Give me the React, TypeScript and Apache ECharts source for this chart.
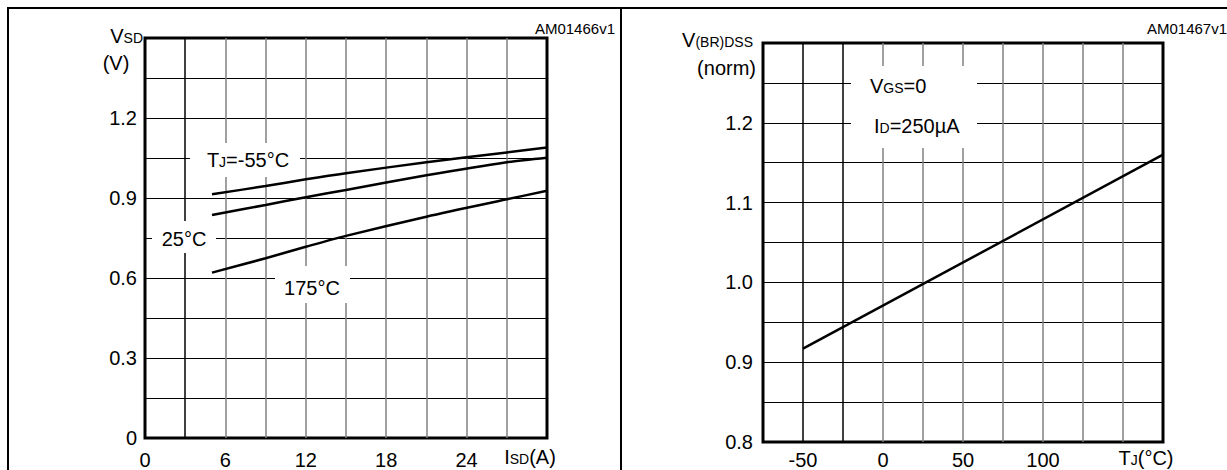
import React, { useEffect, useRef } from "react";
import * as echarts from "echarts";

// Left chart: source-drain diode forward characteristics
const isdA = [5, 9, 12, 15, 21, 27, 30];
const vsdM55 = [0.914, 0.945, 0.970, 0.993, 1.034, 1.071, 1.089];
const vsd25 = [0.836, 0.874, 0.903, 0.930, 0.985, 1.034, 1.051];
const vsd175 = [0.620, 0.674, 0.717, 0.758, 0.830, 0.895, 0.927];

// Right chart: normalized breakdown voltage vs temperature
const tjC = [-50, 175];
const vbrNorm = [0.917, 1.16];

const FONT = "'Liberation Sans', Arial, Helvetica, sans-serif";
const GRAY = "#808080";

function rich(size: number) {
  return {
    a: { fontSize: size, fontFamily: FONT, fill: "#000", color: "#000", verticalAlign: "bottom" },
    s: { fontSize: Math.round(size * 0.7), fontFamily: FONT, fill: "#000", color: "#000", verticalAlign: "bottom", padding: [0, 0, 1, 0] },
  };
}

function txt(x: number, y: number, text: string, align: string, size = 20) {
  return {
    type: "text",
    x,
    y,
    z: 101,
    style: {
      text,
      rich: rich(size),
      align,
      verticalAlign: "middle",
      fontSize: size,
      fontFamily: FONT,
      fill: "#000",
    },
  };
}

function box(x: number, y: number, w: number, h: number) {
  return {
    type: "rect",
    z: 100,
    shape: { x, y, width: w, height: h },
    style: { fill: "#fff", stroke: null },
  };
}

function hline(x1: number, y1: number, x2: number, y2: number, w = 2) {
  return {
    type: "line",
    z: 100,
    shape: { x1, y1, x2, y2 },
    style: { stroke: "#000", lineWidth: w },
  };
}

export default function App() {
  const ref = useRef<HTMLDivElement>(null);
  useEffect(() => {
    document.body.style.margin = "0";
    const chart = echarts.init(ref.current!, null, { renderer: "svg" });
    const ser = (x: number[], y: number[], idx: number, smooth: boolean) => ({
      type: "line",
      xAxisIndex: idx,
      yAxisIndex: idx,
      data: x.map((v, i) => [v, y[i]]),
      showSymbol: false,
      smooth: smooth ? 0.3 : false,
      lineStyle: { color: "#000", width: 2.5 },
      z: 5,
    });
    const labelStyle = { color: "#000", fontSize: 20, fontFamily: FONT };
    chart.setOption({
      animation: false,
      backgroundColor: "#fff",
      grid: [
        { left: 145, top: 38, width: 402, height: 400, show: true, borderColor: "#000", borderWidth: 3, backgroundColor: "transparent" },
        { left: 763, top: 43, width: 400, height: 401, show: true, borderColor: "#000", borderWidth: 3, backgroundColor: "transparent" },
      ],
      xAxis: [
        {
          type: "value", gridIndex: 0, min: 0, max: 30, interval: 3,
          axisLine: { show: false }, axisTick: { show: false },
          axisLabel: {
            ...labelStyle, margin: 12, showMaxLabel: false,
            formatter: (v: number) => (Math.round(v) % 6 === 0 && v < 30 ? String(Math.round(v)) : ""),
          },
          splitLine: {
            show: true, showMinLine: false, showMaxLine: false,
            lineStyle: { color: ["#000", GRAY, GRAY, GRAY, GRAY, GRAY, GRAY, GRAY, GRAY], width: 1.5 },
          },
        },
        {
          type: "value", gridIndex: 1, min: -75, max: 175, interval: 25,
          axisLine: { show: false }, axisTick: { show: false },
          axisLabel: {
            ...labelStyle, margin: 8, showMaxLabel: false,
            formatter: (v: number) => (Math.round(v) % 50 === 0 && v < 150 ? String(Math.round(v)) : ""),
          },
          splitLine: {
            show: true, showMinLine: false, showMaxLine: false,
            lineStyle: { color: ["#000", "#000", GRAY, GRAY, GRAY, GRAY, GRAY, GRAY, GRAY], width: 1.5 },
          },
        },
      ],
      yAxis: [
        {
          type: "value", gridIndex: 0, min: 0, max: 1.5, interval: 0.15,
          axisLine: { show: false }, axisTick: { show: false },
          axisLabel: {
            ...labelStyle, margin: 8, showMaxLabel: false,
            formatter: (v: number) => {
              const k = Math.round(v / 0.15);
              if (k % 2 !== 0 || k >= 10) return "";
              return k === 0 ? "0" : (k * 0.15).toFixed(1);
            },
          },
          splitLine: {
            show: true, showMinLine: false, showMaxLine: false,
            lineStyle: { color: "#000", width: 1 },
          },
        },
        {
          type: "value", gridIndex: 1, min: 0.8, max: 1.3, interval: 0.05,
          axisLine: { show: false }, axisTick: { show: false },
          axisLabel: {
            ...labelStyle, margin: 10, showMaxLabel: false,
            formatter: (v: number) => {
              const k = Math.round(v * 100);
              if (k % 10 !== 0 || k >= 125) return "";
              return (k / 100).toFixed(1);
            },
          },
          splitLine: {
            show: true, showMinLine: false, showMaxLine: false,
            lineStyle: { color: "#000", width: 1 },
          },
        },
      ],
      series: [
        ser(isdA, vsdM55, 0, true),
        ser(isdA, vsd25, 0, true),
        ser(isdA, vsd175, 0, true),
        ser(tjC, vbrNorm, 1, false),
      ],
      graphic: [
        // outer frame
        hline(7, 8, 1227, 8, 2),
        hline(8, 7, 8, 470, 2),
        hline(621, 7, 621, 470, 2),
        // figure codes
        txt(615, 28, "{a|AM01466v1}", "right", 15),
        txt(1147, 28, "{a|AM01467v1}", "left", 15),
        // left chart axis titles
        txt(143, 36, "{a|V}{s|SD}", "right", 20),
        txt(116, 63, "{a|(V)}", "center", 20),
        txt(530, 457, "{a|I}{s|SD}{a|(A)}", "center", 20),
        // left chart curve labels
        box(190, 143, 110, 34),
        txt(248, 160, "{a|T}{s|J}{a|=-55°C}", "center", 20),
        box(152, 221, 64, 32),
        txt(184, 239, "{a|25°C}", "center", 20),
        box(275, 266, 75, 37),
        txt(312, 288, "{a|175°C}", "center", 20),
        // right chart axis titles
        txt(753, 40, "{a|V}{s|(BR)DSS}", "right", 20),
        txt(756, 68, "{a|(norm)}", "right", 20),
        txt(1146, 458, "{a|T}{s|J}{a|(°C)}", "center", 20),
        // right chart conditions
        box(851, 66, 126, 82),
        txt(870, 86, "{a|V}{s|GS}{a|=0}", "left", 20),
        txt(874, 126, "{a|I}{s|D}{a|=250µA}", "left", 20),
      ],
    });
    return () => chart.dispose();
  }, []);
  return <div ref={ref} style={{ width: 1227, height: 470 }} />;
}
